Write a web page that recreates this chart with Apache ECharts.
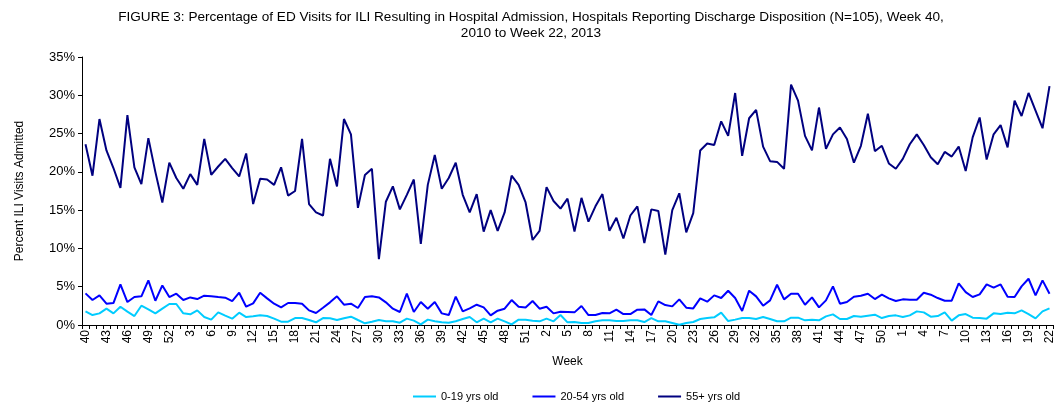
<!DOCTYPE html>
<html>
<head>
<meta charset="utf-8">
<script src="https://cdn.jsdelivr.net/npm/echarts@6/dist/echarts.min.js"></script>
<style>
  html, body { margin: 0; padding: 0; background: #fff; }
  #chart { width: 1062px; height: 404px; }
</style>
</head>
<body>
<div id="chart"></div>
<script>
// week labels, week 40 of 2010 to week 22 of 2013
const weeks = [
  40,41,42,43,44,45,46,47,48,49,50,51,52,
  1,2,3,4,5,6,7,8,9,10,11,12,13,14,15,16,17,18,19,20,21,22,23,24,25,26,
  27,28,29,30,31,32,33,34,35,36,37,38,39,40,41,42,43,44,45,46,47,48,49,50,51,52,
  1,2,3,4,5,6,7,8,9,10,11,12,13,14,15,16,17,18,19,20,21,22,23,24,25,26,
  27,28,29,30,31,32,33,34,35,36,37,38,39,40,41,42,43,44,45,46,47,48,49,50,51,52,
  1,2,3,4,5,6,7,8,9,10,11,12,13,14,15,16,17,18,19,20,21,22
]

const age0to19 = [
  1.78,1.3,1.52,2.13,1.52,2.39,1.74,1.17,2.52,2.04,1.52,2.13,2.74,
  2.74,1.52,1.39,1.91,1.04,0.7,1.65,1.22,0.83,1.61,1.04,1.13,1.26,1.17,0.83,0.43,0.43,0.91,0.91,0.65,0.35,0.91,
  0.87,0.65,0.87,1.09,0.65,0.22,0.43,0.65,0.48,0.48,0.3,0.83,0.57,0.09,0.7,0.48,0.35,0.3,0.48,0.78,1.04,0.35,
  0.83,0.35,0.83,0.48,0.09,0.7,0.7,0.57,
  0.48,0.83,0.48,1.3,0.35,0.39,0.26,0.26,0.48,0.61,0.61,0.52,0.52,0.61,0.61,0.39,0.91,0.48,0.48,0.26,0.04,0.26,
  0.39,0.78,0.91,1.0,1.61,0.52,0.7,0.91,0.91,0.78,1.04,0.78,0.48,0.48,0.96,0.96,0.61,0.7,0.61,1.13,1.39,0.78,
  0.78,1.17,1.09,1.22,1.35,0.91,1.17,1.26,
  1.04,1.26,1.78,1.65,1.09,1.17,1.65,0.57,1.26,1.43,0.96,0.91,0.83,1.52,1.43,1.61,1.52,1.91,1.43,0.87,1.78,2.17
]

const age20to54 = [
  4.13,3.26,3.87,2.78,2.87,5.3,3.0,3.65,3.74,5.83,3.17,5.17,3.65,
  4.09,3.26,3.6,3.39,3.83,3.74,3.65,3.57,3.13,4.22,2.39,2.83,4.22,3.48,2.78,2.3,2.87,2.87,2.78,1.91,1.57,2.26,
  2.96,3.74,2.65,2.78,2.22,3.65,3.74,3.6,2.96,2.13,1.7,4.09,1.7,3.0,2.13,3.0,1.52,1.3,3.7,1.78,2.17,2.65,
  2.3,1.26,1.87,2.13,3.26,2.39,2.3,3.13,
  2.13,2.39,1.52,1.74,1.7,1.65,2.48,1.3,1.3,1.57,1.52,2.0,1.43,1.43,2.0,2.04,1.3,3.09,2.61,2.43,3.35,2.26,
  2.17,3.48,3.04,3.87,3.52,4.48,3.52,1.83,4.48,3.74,2.52,3.22,5.26,3.35,4.09,4.09,2.65,3.61,2.3,3.22,5.04,2.78,
  3.0,3.7,3.83,4.09,3.39,3.96,3.48,3.13,
  3.35,3.3,3.3,4.22,3.96,3.52,3.17,3.17,5.43,4.3,3.65,4.0,5.3,4.87,5.3,3.7,3.65,5.04,6.04,3.87,5.83,4.09
]

const age55plus = [
  23.6,19.5,26.9,22.8,20.5,17.9,27.4,20.6,18.4,24.4,20.0,16.0,21.2,
  19.2,17.8,19.7,18.3,24.3,19.6,20.7,21.7,20.5,19.4,22.4,15.8,19.1,19.0,18.3,20.6,16.9,17.5,24.3,15.8,14.7,14.3,
  21.7,18.1,26.9,24.9,15.3,19.6,20.4,8.6,16.1,18.1,15.1,17.0,19.0,10.6,18.3,22.2,17.8,19.2,21.2,17.0,14.7,17.1,
  12.2,15.0,12.3,14.7,19.5,18.3,16.0,11.1,
  12.3,18.0,16.2,15.2,16.5,12.2,16.6,13.5,15.5,17.1,12.3,14.0,11.3,14.3,15.5,10.7,15.1,14.9,9.2,15.0,17.2,12.1,
  14.6,22.8,23.7,23.5,26.6,24.7,30.3,22.1,27.0,28.1,23.3,21.4,21.3,20.4,31.4,29.3,24.7,22.8,28.4,23.0,24.9,25.8,
  24.3,21.2,23.4,27.6,22.7,23.4,21.1,20.4,
  21.7,23.6,24.9,23.5,21.9,21.0,22.6,22.0,23.3,20.1,24.5,27.1,21.6,24.9,26.1,23.2,29.3,27.3,30.3,28.0,25.7,31.2
]

const seriesNames = ['0-19 yrs old', '20-54 yrs old', '55+ yrs old']
const seriesColors = ['#00CCFF', '#0000FF', '#000080']
const yTicks = { min: 0, max: 35, interval: 5 }

const font = 'Arial, "Liberation Sans", sans-serif'

const chart = echarts.init(document.getElementById('chart'))

const makeLine = (name, data, color) => ({
  name: name,
  type: 'line',
  data: data,
  symbol: 'none',
  lineStyle: { color: color, width: 2 },
  itemStyle: { color: color },
  animation: false
})

chart.setOption({
  animation: false,
  textStyle: { fontFamily: font },
  title: {
    text: 'FIGURE 3: Percentage of ED Visits for ILI Resulting in Hospital Admission, Hospitals Reporting Discharge Disposition (N=105), Week 40,\n2010 to Week 22, 2013',
    left: 'center',
    top: 4,
    textStyle: {
      fontFamily: font,
      fontSize: 13.6,
      fontWeight: 'normal',
      color: '#000',
      lineHeight: 16
    }
  },
  legend: {
    left: 408,
    top: 386,
    itemGap: 34,
    itemWidth: 23,
    itemHeight: 2,
    icon: 'rect',
    textStyle: { fontSize: 11, color: '#000', fontFamily: font },
    data: seriesNames
  },
  grid: { left: 82, right: 9, top: 57, bottom: 79, containLabel: false },
  xAxis: {
    type: 'category',
    data: weeks,
    boundaryGap: true,
    name: 'Week',
    nameLocation: 'middle',
    nameGap: 31,
    nameTextStyle: { fontSize: 12, color: '#000' },
    axisLine: { lineStyle: { color: '#000', width: 1 } },
    axisTick: { show: true, interval: 0, length: 4, lineStyle: { color: '#000' } },
    axisLabel: { interval: 2, rotate: 90, fontSize: 12, color: '#000', margin: 5 },
    splitLine: { show: false }
  },
  yAxis: {
    type: 'value',
    min: yTicks.min,
    max: yTicks.max,
    interval: yTicks.interval,
    name: 'Percent ILI Visits Admitted',
    nameLocation: 'middle',
    nameGap: 56,
    nameTextStyle: { fontSize: 12, color: '#000' },
    axisLine: { show: true, lineStyle: { color: '#000', width: 1 } },
    axisTick: { show: true, length: 4, lineStyle: { color: '#000' } },
    axisLabel: { formatter: '{value}%', fontSize: 13, color: '#000', margin: 7 },
    splitLine: { show: false }
  },
  series: [
    makeLine(seriesNames[0], age0to19, seriesColors[0]),
    makeLine(seriesNames[1], age20to54, seriesColors[1]),
    makeLine(seriesNames[2], age55plus, seriesColors[2])
  ]
})
</script>
</body>
</html>
